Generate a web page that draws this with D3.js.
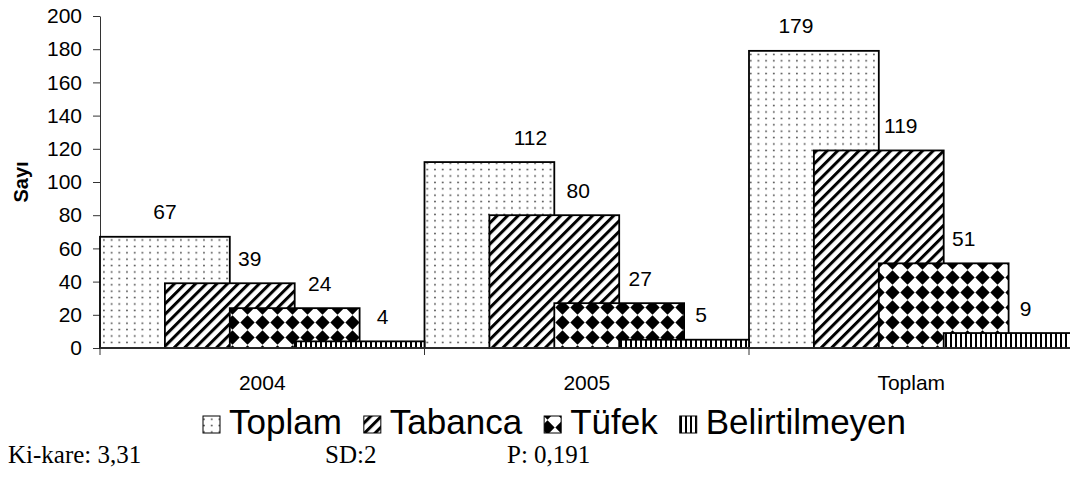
<!DOCTYPE html>
<html>
<head>
<meta charset="utf-8">
<script src="https://cdn.jsdelivr.net/npm/d3@7"></script>
<style>
  body { margin: 0; background: #fff; }
  svg { display: block; }
</style>
</head>
<body>
<svg id="chart" width="1070" height="485"></svg>
<script>
// Firearm counts by year
const categories = ["2004", "2005", "Toplam"];
const seriesNames = ["Toplam", "Tabanca", "Tüfek", "Belirtilmeyen"];
const toplamValues = [67, 112, 179];
const tabancaValues = [39, 80, 119];
const tufekValues = [24, 27, 51];
const belirtilmeyenValues = [4, 5, 9];
const yTickValues = [0, 20, 40, 60, 80, 100, 120, 140, 160, 180, 200];
const yTitle = "Sayı";
const statTexts = ["Ki-kare: 3,31", "SD:2", "P: 0,191"];

const seriesValues = [toplamValues, tabancaValues, tufekValues, belirtilmeyenValues];
const patternIds = ["pDots", "pDiag", "pDiamond", "pVert"];

const svg = d3.select("#chart");
const sans = "'Liberation Sans', Arial, sans-serif";
const serif = "'Liberation Serif', 'Times New Roman', serif";

// ---- fill patterns ----
const defs = svg.append("defs");

const dots = defs.append("pattern").attr("id", "pDots")
  .attr("patternUnits", "userSpaceOnUse").attr("width", 7.7).attr("height", 6.4);
dots.append("rect").attr("width", 7.7).attr("height", 6.4).attr("fill", "#fff");
dots.append("circle").attr("cx", 3.8).attr("cy", 3.2).attr("r", 0.9).attr("fill", "#444");

const diag = defs.append("pattern").attr("id", "pDiag")
  .attr("patternUnits", "userSpaceOnUse").attr("width", 7.5).attr("height", 7.5)
  .attr("patternTransform", "rotate(45)");
diag.append("rect").attr("width", 7.5).attr("height", 7.5).attr("fill", "#fff");
diag.append("rect").attr("x", 0).attr("width", 3).attr("height", 7.5).attr("fill", "#000");

const diamond = defs.append("pattern").attr("id", "pDiamond")
  .attr("patternUnits", "userSpaceOnUse").attr("width", 15).attr("height", 15);
diamond.append("rect").attr("width", 15).attr("height", 15).attr("fill", "#fff");
diamond.append("path").attr("d", "M7.5,0.3 L14.7,7.5 L7.5,14.7 L0.3,7.5 Z").attr("fill", "#000");

const vert = defs.append("pattern").attr("id", "pVert")
  .attr("patternUnits", "userSpaceOnUse").attr("width", 5).attr("height", 5);
vert.append("rect").attr("width", 5).attr("height", 5).attr("fill", "#fff");
vert.append("rect").attr("width", 2).attr("height", 5).attr("fill", "#000");

// ---- scales ----
const plotLeft = 100, plotRight = 1073.5, plotTop = 16, plotBottom = 348;
const x = d3.scaleBand().domain(categories).range([plotLeft, plotRight]).padding(0);
const y = d3.scaleLinear().domain([0, 200]).range([plotBottom, plotTop]);
const bw = x.bandwidth();
const barW = bw * 0.4;          // each bar covers 40% of the group
const barStep = bw * 0.2;       // consecutive bars overlap by half

// ---- axes ----
const yAxis = svg.append("g").attr("transform", `translate(${plotLeft},0)`)
  .call(d3.axisLeft(y).tickValues(yTickValues).tickSize(7).tickSizeOuter(0).tickPadding(11));
yAxis.select(".domain").attr("stroke", "#333");
yAxis.selectAll(".tick line").attr("stroke", "#333");
yAxis.selectAll(".tick text").attr("font-family", sans).attr("font-size", 21).attr("fill", "#000");

// ---- bars ----
seriesValues.forEach((vals, si) => {
  svg.append("g").selectAll("rect").data(categories).join("rect")
    .attr("x", c => x(c) + si * barStep)
    .attr("y", (c, ci) => y(vals[ci]))
    .attr("width", barW)
    .attr("height", (c, ci) => y(0) - y(vals[ci]))
    .attr("fill", `url(#${patternIds[si]})`)
    .attr("stroke", "#000")
    .attr("stroke-width", 1.8);
});

// x axis line and group boundary ticks
svg.append("line").attr("x1", plotLeft).attr("x2", plotRight)
  .attr("y1", plotBottom).attr("y2", plotBottom).attr("stroke", "#333").attr("stroke-width", 1.3);
const boundaries = categories.map(c => x(c)).concat([x(categories[categories.length - 1]) + bw]);
svg.append("g").selectAll("line").data(boundaries).join("line")
  .attr("x1", d => d).attr("x2", d => d)
  .attr("y1", plotBottom).attr("y2", plotBottom + 7)
  .attr("stroke", "#333");

svg.append("g").selectAll("text").data(categories).join("text")
  .attr("x", c => x(c) + bw / 2)
  .attr("y", 382)
  .attr("text-anchor", "middle")
  .attr("dominant-baseline", "central")
  .attr("font-family", sans).attr("font-size", 21)
  .text(c => c);

// ---- value labels ----
const labelShift = [[0, 41, -18], [20, 24, 22], [25, 21, 20], [23, 17, 17]];
seriesValues.forEach((vals, si) => {
  svg.append("g").selectAll("text").data(categories).join("text")
    .attr("x", (c, ci) => x(c) + si * barStep + barW / 2 + labelShift[si][ci])
    .attr("y", (c, ci) => y(vals[ci]) - 25)
    .attr("text-anchor", "middle")
    .attr("dominant-baseline", "central")
    .attr("font-family", sans).attr("font-size", 21)
    .text((c, ci) => vals[ci]);
});

// ---- y title ----
svg.append("text")
  .attr("transform", "translate(21,182) rotate(-90)")
  .attr("text-anchor", "middle")
  .attr("dominant-baseline", "central")
  .attr("font-family", sans).attr("font-size", 20).attr("font-weight", "bold")
  .text(yTitle);

// ---- legend: swatch + label, laid out left to right ----
const legend = svg.append("g");
const swatch = 17, swatchGap = 9, itemGap = 22;
let lx = 203;
seriesNames.forEach((name, i) => {
  legend.append("rect")
    .attr("x", lx).attr("y", 416)
    .attr("width", swatch).attr("height", swatch)
    .attr("fill", `url(#${patternIds[i]})`)
    .attr("stroke", "#000").attr("stroke-width", 1);
  const t = legend.append("text")
    .attr("x", lx + swatch + swatchGap).attr("y", 434)
    .attr("font-family", sans).attr("font-size", 35)
    .text(name);
  lx += swatch + swatchGap + t.node().getComputedTextLength() + itemGap;
});

// ---- test statistics ----
const statX = [8, 325, 507];
svg.append("g").selectAll("text").data(statTexts).join("text")
  .attr("x", (d, i) => statX[i]).attr("y", 463)
  .attr("font-family", serif).attr("font-size", 25)
  .text(d => d);
</script>
</body>
</html>
